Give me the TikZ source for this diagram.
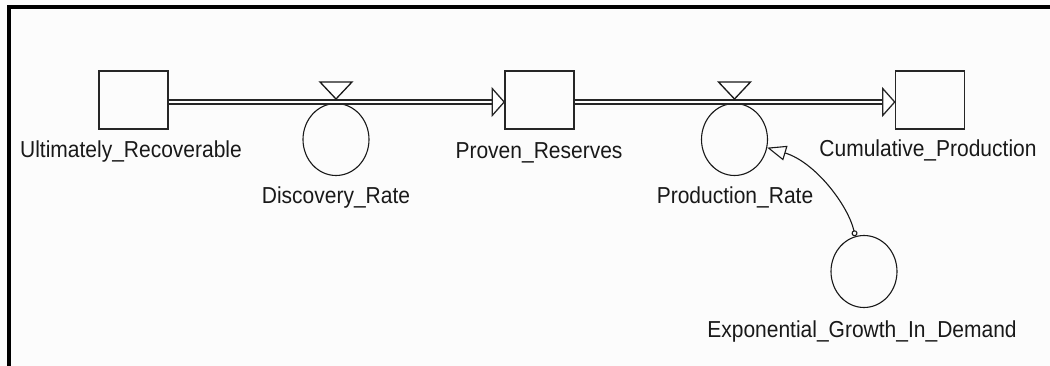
\documentclass[tikz,border=0pt]{standalone}
\usepackage{graphicx}
\usepackage{fontspec}
\setmainfont{Liberation Sans}
\usetikzlibrary{shapes.geometric,arrows.meta}
\newcommand\lbltext[1]{\scalebox{1}[1.1]{#1}}
\begin{document}
\begin{tikzpicture}[x=1pt,y=-1pt,
  stock/.style={draw=black!85, line width=1.6pt, minimum width=69pt, minimum height=58pt, inner sep=0pt},
  aux/.style={draw=black!90, line width=1.1pt, ellipse, minimum width=66pt, minimum height=72pt, inner sep=0pt},
  lbl/.style={font=\fontsize{21}{25}\selectfont, inner sep=0pt, anchor=base, text=black!90},
  pipe/.style={draw=black!85, line width=1.6pt, double=white, double distance=2.8pt},
  pipetip/.style={draw=black!85, line width=1.3pt, fill=white, line join=miter},
  valvestyle/.style={draw=black!90, line width=1.3pt, fill=white, line join=miter},
  link/.style={draw=black!90, line width=1.1pt, {Circle[open,length=6pt,width=6pt]}-{Triangle[open,length=19pt,width=15pt]}}
]
\useasboundingbox (0,0) rectangle (1050,366);
\fill[white!99!black] (0,0) rectangle (1050,366);
\fill[black] (7,5) rectangle (1050,9);
\fill[black] (7,5) rectangle (11,366);

% stocks
\node[stock] (u) at (133.5,100) {};
\node[stock] (p) at (539.5,100) {};
\node[stock] (c) at (930,100) {};

% converters / rates
\node[aux] (dr) at (336,139.5) {};
\node[aux] (pr) at (734.5,139.5) {};
\node[aux] (eg) at (864,271.5) {};

% labels
\node[lbl] (ul) at (131,158) {\lbltext{Ultimately\_Recoverable}};
\node[lbl] (drl) at (336,204) {\lbltext{Discovery\_Rate}};
\node[lbl] (pl) at (539,159) {\lbltext{Proven\_Reserves}};
\node[lbl] (prl) at (735,204) {\lbltext{Production\_Rate}};
\node[lbl] (cl) at (928,157) {\lbltext{Cumulative\_Production}};
\node[lbl] (egl) at (862,337) {\lbltext{Exponential\_Growth\_In\_Demand}};

% flow pipes
\coordinate (ue) at ([yshift=-2pt]u.east);
\coordinate (pw) at ([yshift=-2pt]p.west);
\coordinate (pe) at ([yshift=-2pt]p.east);
\coordinate (cw) at ([yshift=-2pt]c.west);
\draw[pipe] (ue) -- ([xshift=-12pt]pw);
\draw[pipetip] (pw) -- ++(-12,-13.5) -- ++(0,27) -- cycle;
\draw[pipe] (pe) -- ([xshift=-12pt]cw);
\draw[pipetip] (cw) -- ++(-12,-13.5) -- ++(0,27) -- cycle;

% valves
\draw[valvestyle] (dr.north |- 0,99) -- ++(-16,-17) -- ++(32,0) -- cycle;
\draw[valvestyle] (pr.north |- 0,99) -- ++(-16,-17) -- ++(32,0) -- cycle;

% information link
\draw[link] (eg.104) .. controls (848,205) and (815,162) .. (pr.-14);
\end{tikzpicture}
\end{document}
